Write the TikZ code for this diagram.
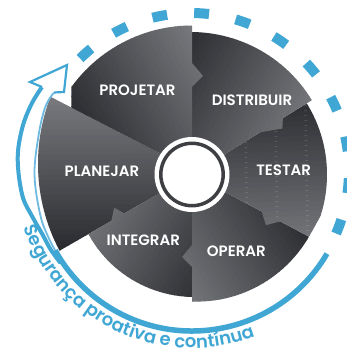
\documentclass[tikz,border=0pt]{standalone}
\usepackage{fontspec}
\setmainfont{Poppins}
\newfontfamily\semifont{Poppins SemiBold}
\usetikzlibrary{calc,decorations.text}
\definecolor{segblue}{RGB}{64,167,213}
\definecolor{lightblue}{RGB}{110,186,224}
\definecolor{pdark}{RGB}{42,43,47}
\definecolor{plight}{RGB}{120,121,125}
\definecolor{ringgray}{RGB}{62,63,67}
\newcommand\arcfont{\semifont\fontsize{18}{18}\selectfont}
\newcommand\pieceshade[1]{%
  \begin{scope}[rotate=#1]
    \fill[plight] (-10,-220) rectangle (230,-75);
    \fill[pdark] (-10,75) rectangle (230,220);
    \foreach \k in {0,...,29}{
      \pgfmathsetmacro\pc{100*(\k+0.5)/30}
      \fill[pdark!\pc!plight] (-10,{-75+5*\k}) rectangle (230,{-75+5*\k+5.4});
    }
  \end{scope}}
\tikzset{
  lbl/.style={text=white, font=\semifont\fontsize{15}{15}\selectfont, inner sep=0pt, text depth=0pt, anchor=center},
  dashseg/.style={draw=segblue, line width=10pt},
  band/.style={draw=segblue, line width=5.5pt},
}
\begin{document}
\begin{tikzpicture}[x=1pt,y=1pt]
\useasboundingbox (0,0) rectangle (347,351);
\fill[white] (0,0) rectangle (347,351);
\begin{scope}[shift={(192,176.5)}]
  % PLANEJAR
  \begin{scope}
    \clip (0,0) -- (0,4.7) -- (-141.5,77.7) arc[start angle=158.85, end angle=207.9, radius=185.7] -- cycle;
    \pieceshade{180.2}
  \end{scope}
  % INTEGRAR
  \begin{scope}
    \clip (0,0) -- (209.9:78) -- ($(209.9:84)+(119.9:10)$) -- (209.9:93) -- (209.9:119.5)
      -- plot[domain=209.9:270, samples=25] (\x:{119.5+(\x-209.9)/60.1*3}) -- cycle;
    \pieceshade{240}
  \end{scope}
  % OPERAR
  \begin{scope}
    \clip (0,0) -- (270:70.5) -- ($(270:82.5)+(180:10)$) -- (270:92.5) -- (270:127)
      -- plot[domain=270:332, samples=25] (\x:{127+(\x-270)/62*5.5}) -- cycle;
    \pieceshade{301}
  \end{scope}
  % TESTAR
  \begin{scope}
    \clip (0,0) -- (-28:79) -- ($(-28:89)+(-118:10)$) -- (-28:100) -- (-28:132.5)
      -- (-18:135) arc[start angle=-18, end angle=31.8, radius=135] -- cycle;
    \pieceshade{1.9}
  \end{scope}
  % DISTRIBUIR
  \begin{scope}
    \clip (0,0) -- (31.8:80) -- ($(31.8:101)+(-58.2:8.5)$) -- (31.8:107) -- (31.8:141)
      -- plot[domain=31.8:90, samples=25] (\x:{141+(\x-31.8)/58.2*1.5}) -- cycle;
    \pieceshade{60.9}
  \end{scope}
  % PROJETAR
  \begin{scope}
    \clip (0,4.7) -- (0,87.5) -- (11,98.5) -- (0,111.5) -- (0,149)
      arc[start angle=90, end angle=144, radius=149] -- (-120.5,66.8) -- cycle;
    \pieceshade{120}
  \end{scope}
  % centre ring
  \fill[white] (0,0) circle (37.5);
  \draw[ringgray, line width=3.5pt] (0,0) circle (31.2);
  \node[lbl] (projetar) at (-54.5,84.5) {PROJETAR};
  \node[lbl] (distribuir) at (60,74) {DISTRIBUIR};
  \node[lbl] (testar) at (91.7,4) {TESTAR};
  \node[lbl] (planejar) at (-90,3.2) {PLANEJAR};
  \node[lbl] (integrar) at (-48.7,-65.5) {INTEGRAR};
  \node[lbl] (operar) at (44.3,-76.8) {OPERAR};
  % dashed part
  \foreach \i in {0,...,10}{
    \pgfmathsetmacro\aa{131.9-15.25*\i+2.7}
    \pgfmathsetmacro\ab{131.9-15.25*\i-2.7}
    \draw[dashseg] ($(-1,3.5)+(\aa:158)$) arc[start angle=\aa, end angle=\ab, radius=158];
  }
  % swoosh: outer line and inner line
  \draw[segblue, line width=4pt] plot[smooth, tension=0.6] coordinates {(-131.4,-88.6) (-141.3,-75.1) (-149.3,-60.3) (-159.4,-42.7) (-169.7,-20.8) (-174.3,15.3) (-170,45.6) (-160.9,69.7) (-150,87.5)};
  \draw[lightblue, line width=1.8pt] plot[smooth, tension=0.6] coordinates {(-135.5,-78.2) (-143.5,-63) (-151.7,-40.6) (-157.5,0) (-153.1,41.0) (-146.4,68.3) (-138,82)};
  % solid band
  \draw[band] (-30.4:156.5) arc[start angle=-30.4, end angle=-151, radius=156.5];
  % arrow head
  \fill[white] (-150,87.5) -- (-162,92.5) -- (-125,109.5) -- (-128,82.5) -- (-138,82) -- cycle;
  \draw[segblue, line width=2.2pt, line join=miter] (-150,87.5) -- (-162,92.5) -- (-125,109.5) -- (-128,82.5) -- (-138,82);
  % curved text
  \path[decorate, decoration={text along path, text={|\arcfont|Segurança proativa e contínua}, text align=center, text color=segblue}]
    ($(0,4)+(-170.2:177.5)$) arc[start angle=-170.2, end angle=-60.2, radius=177.5];
\end{scope}
\end{tikzpicture}
\end{document}
